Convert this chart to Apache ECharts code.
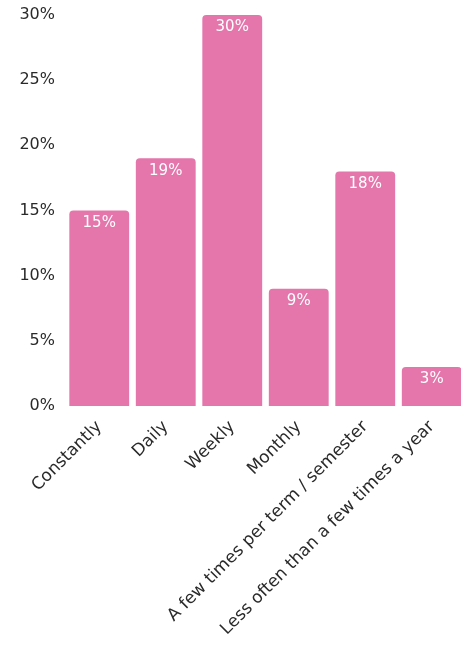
<!DOCTYPE html>
<html>
<head>
<meta charset="utf-8">
<script src="https://cdn.jsdelivr.net/npm/echarts@6/dist/echarts.min.js"></script>
<style>
html,body{margin:0;padding:0;background:#fff;}
#main{width:461px;height:646px;}
</style>
</head>
<body>
<div id="main"></div>
<script>
// categories and values (percent)
var categories = ['Constantly', 'Daily', 'Weekly', 'Monthly', 'A few times per term / semester', 'Less often than a few times a year'];
var values = [15, 19, 30, 9, 18, 3];
var yTicks = [0, 5, 10, 15, 20, 25, 30];

var chart = echarts.init(document.getElementById('main'));
chart.setOption({
	animation: false,
	textStyle: { fontFamily: 'DejaVu Sans' },
	grid: { left: 66, right: -4, top: 15, bottom: 240, outerBoundsMode: 'none' },
	xAxis: {
		type: 'category',
		data: categories,
		axisLine: { show: false },
		axisTick: { show: false },
		axisLabel: {
			rotate: 45,
			interval: 0,
			margin: 18,
			color: '#2a2a2a',
			fontSize: 17
		}
	},
	yAxis: {
		type: 'value',
		min: yTicks[0],
		max: yTicks[yTicks.length - 1],
		interval: 5,
		splitLine: { show: false },
		axisLine: { show: false },
		axisTick: { show: false },
		axisLabel: {
			formatter: '{value}%',
			color: '#2a2a2a',
			fontSize: 16,
			margin: 11
		}
	},
	series: [{
		type: 'bar',
		data: values,
		barCategoryGap: '10%',
		itemStyle: { color: '#e476ac', borderRadius: [4, 4, 0, 0] },
		label: {
			show: true,
			position: 'insideTop',
			distance: 5,
			formatter: '{c}%',
			color: '#fff',
			fontSize: 15
		}
	}]
});
</script>
</body>
</html>
